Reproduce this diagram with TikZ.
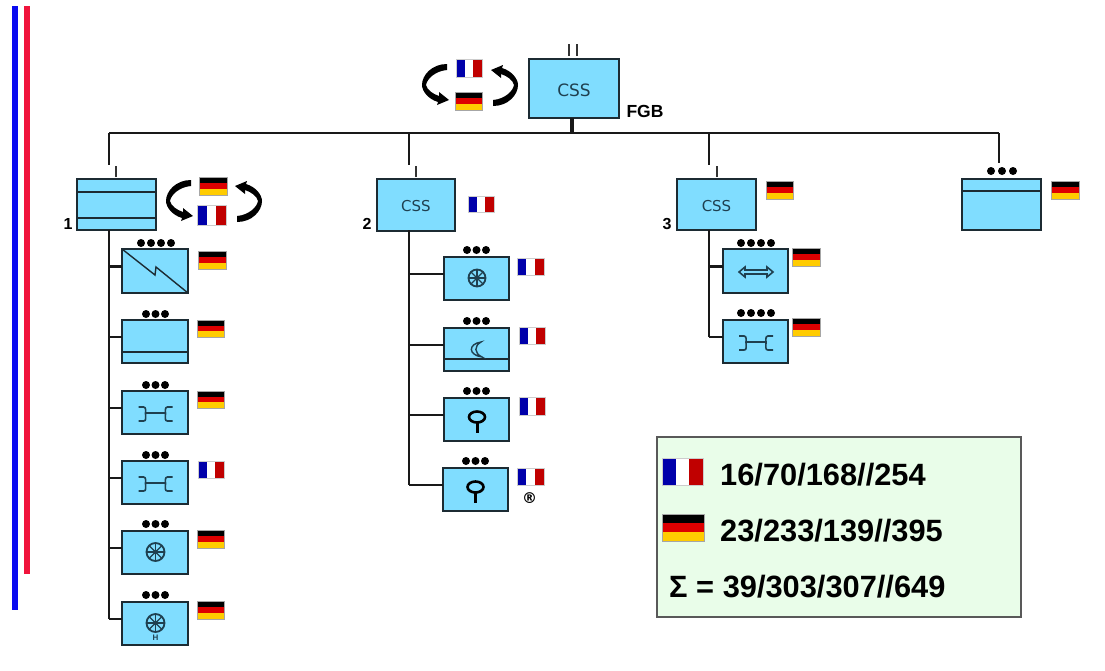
\documentclass[tikz,border=0pt]{standalone}
\usepackage{fontspec}
\setmainfont{Liberation Sans}
\newfontfamily\cssfont{DejaVu Sans}
\definecolor{boxblue}{HTML}{80DDFF}
\definecolor{boxline}{HTML}{1C2B33}
\definecolor{iconcol}{HTML}{1F4050}
\definecolor{legendbg}{HTML}{E9FDE9}
\definecolor{frblue}{HTML}{0000AA}
\definecolor{frred}{HTML}{C00000}
\definecolor{dered}{HTML}{DD0000}
\definecolor{degold}{HTML}{FFCC00}
\definecolor{barblue}{HTML}{0A0AF0}
\definecolor{barred}{HTML}{F0143C}
\tikzset{
  bx/.style={draw=boxline,fill=boxblue,line width=1.6pt,inner sep=0pt,outer sep=0pt,text=iconcol},
  wire/.style={draw=black!90,line width=2.3pt},
  bus/.style={draw=black!90,line width=2.8pt},
  tick/.style={draw=black!80,line width=2pt},
  icon/.style={draw=iconcol,line width=1.6pt},
  keyicon/.style={draw=black,line width=2.6pt},
  lab/.style={font=\bfseries\fontsize{16}{16}\selectfont,inner sep=0pt},
  legtxt/.style={font=\bfseries\fontsize{30.8}{31}\selectfont,anchor=base west,inner sep=0pt},
  swap/.pic={
    \foreach \s in {1,-1}{
      \begin{scope}[xscale=\s,yscale=\s]
      \fill[black] (-23,-21) -- (-23,-15) .. controls (-35,-14) and (-43,-6) .. (-44,0)
        .. controls (-43,5) and (-37,9) .. (-31,11) -- (-31,7) -- (-21,15) -- (-33,20) -- (-32,17)
        .. controls (-42,14) and (-48,6) .. (-48,0) .. controls (-48,-10) and (-38,-21) .. (-23,-21) -- cycle;
      \end{scope}
    }
  }
}
% box: name, x0,y0,x1,y1, text
\newcommand{\bxn}[6]{\node[bx,minimum width={(#4-#2)*1pt},minimum height={(#5-#3)*1pt}] (#1) at ({(#2+#4)/2},{(#3+#5)/2}) {#6};}
\newcommand{\flagF}[4]{%
  \fill[frblue] (#1,#2) rectangle ({#1+(#3-#1)/3},#4);
  \fill[white] ({#1+(#3-#1)/3},#2) rectangle ({#1+2*(#3-#1)/3},#4);
  \fill[frred] ({#1+2*(#3-#1)/3},#2) rectangle (#3,#4);
  \draw[black!20,line width=.5pt] (#1,#2) rectangle (#3,#4);}
\newcommand{\flagD}[4]{%
  \fill[black] (#1,#2) rectangle (#3,{#2+(#4-#2)/3});
  \fill[dered] (#1,{#2+(#4-#2)/3}) rectangle (#3,{#2+2*(#4-#2)/3});
  \fill[degold] (#1,{#2+2*(#4-#2)/3}) rectangle (#3,#4);
  \draw[black!35,line width=.5pt] (#1,#2) rectangle (#3,#4);}
\newcommand{\dotsiii}[3]{\foreach \k in {0,1,2}{\fill[black] ({#1+\k*#3},#2) circle[radius=4];}}
\newcommand{\dotsiv}[2]{\foreach \k in {0,1,2,3}{\fill[black] ({#1+\k*10},#2) circle[radius=4];}}
\newcommand{\wheel}[3]{%
  \draw[icon,line width=1.8pt] (#1,#2) circle[radius=#3];
  \foreach \a in {0,45,...,135}{\draw[icon,line width=1.2pt] ({#1+#3*cos(\a)},{#2+#3*sin(\a)}) -- ({#1-#3*cos(\a)},{#2-#3*sin(\a)});}
  \fill[iconcol] (#1,#2) circle[radius=2.4];}
\newcommand{\wrench}[2]{%
  \draw[icon] ({#1-17},{#2-7}) -- ({#1-12},{#2-7}) .. controls ({#1-9},{#2-7}) and ({#1-10},{#2-2}) .. ({#1-10},{#2-1}) .. controls ({#1-10},{#2+4}) and ({#1-9},{#2+7}) .. ({#1-12},{#2+7}) -- ({#1-17},{#2+7});
  \draw[icon] ({#1+17},{#2-7}) -- ({#1+12},{#2-7}) .. controls ({#1+9},{#2-7}) and ({#1+10},{#2-2}) .. ({#1+10},{#2-1}) .. controls ({#1+10},{#2+4}) and ({#1+9},{#2+7}) .. ({#1+12},{#2+7}) -- ({#1+17},{#2+7});
  \draw[icon] ({#1-10},{#2-1}) -- ({#1+10},{#2-1});}
\newcommand{\keyic}[2]{%
  \draw[keyicon] (#1,#2) ellipse[x radius=8,y radius=5.5];
  \draw[keyicon,line width=3pt] (#1,{#2+5.5}) -- (#1,{#2+16});}
% connect a side box to its vertical bus
\newcommand{\stub}[2]{\draw[wire] ([yshift=4.5pt]#2.west -| #1) -- ([yshift=4.5pt]#2.west);}
\begin{document}
\begin{tikzpicture}[x=1pt,y=-1pt]
\useasboundingbox (0,0) rectangle (1105,670);
% side bars
\fill[barblue] (12,6) rectangle (18,610);
\fill[barred] (24,6) rectangle (29.5,574);
% bus coordinates
\coordinate (mbL) at (109,133);
\coordinate (mbM) at (409,133);
\coordinate (mbN) at (709,133);
\coordinate (mbR) at (999,133);
\coordinate (dL) at (109,165);
\coordinate (dM) at (409,165);
\coordinate (dN) at (709,165);
\coordinate (dR) at (999,163);
\coordinate (busA) at (109,230);
\coordinate (busB) at (409,230);
\coordinate (busC) at (709,230);
% boxes
\bxn{top}{529}{59}{619}{118}{\raisebox{-7.5pt}[0pt][0pt]{\cssfont\fontsize{17}{17}\selectfont CSS}}
\bxn{b1}{77}{179}{156}{230}{}
\bxn{b2}{377}{179}{455}{231}{\raisebox{-6.5pt}[0pt][0pt]{\cssfont\fontsize{15}{15}\selectfont CSS}}
\bxn{b3}{677}{179}{756}{230}{\raisebox{-6.5pt}[0pt][0pt]{\cssfont\fontsize{15}{15}\selectfont CSS}}
\bxn{b4}{962}{179}{1041}{230}{}
\bxn{s1a}{122}{249}{188}{293}{}
\bxn{s1b}{122}{320}{188}{363}{}
\bxn{s1c}{122}{391}{188}{434}{}
\bxn{s1d}{122}{461}{188}{504}{}
\bxn{s1e}{122}{531}{188}{574}{}
\bxn{s1f}{122}{602}{188}{645}{}
\bxn{s2a}{444}{257}{509}{300}{}
\bxn{s2b}{444}{328}{509}{371}{}
\bxn{s2c}{444}{398}{509}{441}{}
\bxn{s2d}{443}{468}{508}{511}{}
\bxn{s3a}{723}{249}{788}{293}{}
\bxn{s3b}{723}{320}{788}{363}{}
% main bus
\draw[wire,line width=2.6pt] (mbL) -- (mbR);
\draw[wire,line width=3.2pt] ([xshift=-2pt]top.south) -- ([xshift=-2pt]top.south |- mbL);
\draw[wire] (mbL) -- (dL);
\draw[wire] (mbM) -- (dM);
\draw[wire] (mbN) -- (dN);
\draw[wire] (mbR) -- (dR);
% ticks
\draw[tick] (569,44) -- (569,56);
\draw[tick] (577,44) -- (577,56);
\draw[tick] ([xshift=-0.5pt,yshift=2pt]b1.north) -- ++(0,-11);
\draw[tick] ([yshift=2pt]b2.north) -- ++(0,-11);
\draw[tick] ([yshift=2pt]b3.north) -- ++(0,-11);
% vertical buses
\draw[bus] (busA) -- ([yshift=4.5pt]s1f.west -| busA);
\draw[bus] (busB) -- ([yshift=4.5pt]s2d.west -| busB);
\draw[bus] (busC) -- ([yshift=4.5pt]s3b.west -| busC);
\foreach \n in {s1a,s1b,s1c,s1d,s1e,s1f}{\stub{busA}{\n}}
\foreach \n in {s2a,s2b,s2c,s2d}{\stub{busB}{\n}}
\foreach \n in {s3a,s3b}{\stub{busC}{\n}}
% inner lines of boxes
\draw[boxline,line width=1.7pt] (77,192) -- (156,192) (77,218) -- (156,218);
\draw[boxline,line width=1.7pt] (962,191) -- (1041,191);
\draw[boxline,line width=1.5pt] (122,352) -- (188,352);
\draw[boxline,line width=1.5pt] (444,359) -- (509,359);
\draw[boxline,line width=1.4pt] (s1a.north west) -- (155,275) -- (156,267) -- (s1a.south east);
% icons
\wrench{155.5}{414}
\wrench{155.5}{484}
\wheel{155.5}{552}{9}
\wheel{155.5}{623}{9}
\node[font=\bfseries\fontsize{8}{8}\selectfont,text=iconcol,inner sep=0pt] (hlab) at (155.5,638) {H};
\wheel{477}{278}{8.5}
\draw[icon,line width=1.4pt] (481,342) .. controls (468,344) and (468,355) .. (482,357) .. controls (474,353) and (474,346) .. (481,342) -- cycle;
\keyic{477}{417}
\keyic{475.5}{487}
\wrench{756}{343}
\draw[icon] (739,272) -- (745,267) -- (745,270) -- (767,270) -- (767,267) -- (773,272) -- (767,277) -- (767,274) -- (745,274) -- (745,277) -- cycle;
% dots
\dotsiv{141}{243}
\dotsiii{146}{314}{9.5}
\dotsiii{146}{385}{9.5}
\dotsiii{146}{455}{9.5}
\dotsiii{146}{524}{9.5}
\dotsiii{146}{595}{9.5}
\dotsiii{467}{250}{9.5}
\dotsiii{467}{321}{9.5}
\dotsiii{467}{391}{9.5}
\dotsiii{466}{461}{9.5}
\dotsiv{741}{243}
\dotsiv{741}{313}
\dotsiii{991}{171}{11}
% flags
\flagF{456}{59}{482}{77}
\flagD{455}{92}{482}{110}
\flagD{199}{177}{227}{195}
\flagF{197}{205}{226}{225}
\flagD{198}{251}{226}{269}
\flagD{197}{320}{224}{337}
\flagD{197}{391}{224}{408}
\flagF{198}{461}{224}{478}
\flagD{197}{530}{224}{548}
\flagD{197}{601}{224}{619}
\flagF{468}{196}{494}{212}
\flagF{517}{258}{544}{275}
\flagF{519}{327}{545}{344}
\flagF{519}{397}{545}{415}
\flagF{517}{468}{544}{485}
\flagD{766}{181}{793}{199}
\flagD{792}{248}{820}{266}
\flagD{792}{318}{820}{336}
\flagD{1051}{181}{1079}{199}
% swap arrows
\pic at (470,85) {swap};
\pic at (214,201) {swap};
% labels
\node[lab,font=\bfseries\fontsize{17.5}{17.5}\selectfont] (fgb) at (645,111) {FGB};
\node[lab] (n1) at (68,224) {1};
\node[lab] (n2) at (367,224) {2};
\node[lab] (n3) at (667,224) {3};
\node[font=\fontsize{15}{15}\selectfont,inner sep=0pt] (reg) at (529.5,498) {\cssfont\bfseries ®};
% legend
\node[draw=black!65,fill=legendbg,line width=1.3pt,minimum width=364pt,minimum height=180pt,inner sep=0pt] (leg) at (839,527) {};
\flagF{662}{458}{703}{485}
\flagD{662}{514}{704}{541}
\node[legtxt] (t1) at (720,485) {16/70/168//254};
\node[legtxt] (t2) at (720,541) {23/233/139//395};
\node[legtxt] (t3) at (669,597) {Σ = 39/303/307//649};
\end{tikzpicture}
\end{document}
